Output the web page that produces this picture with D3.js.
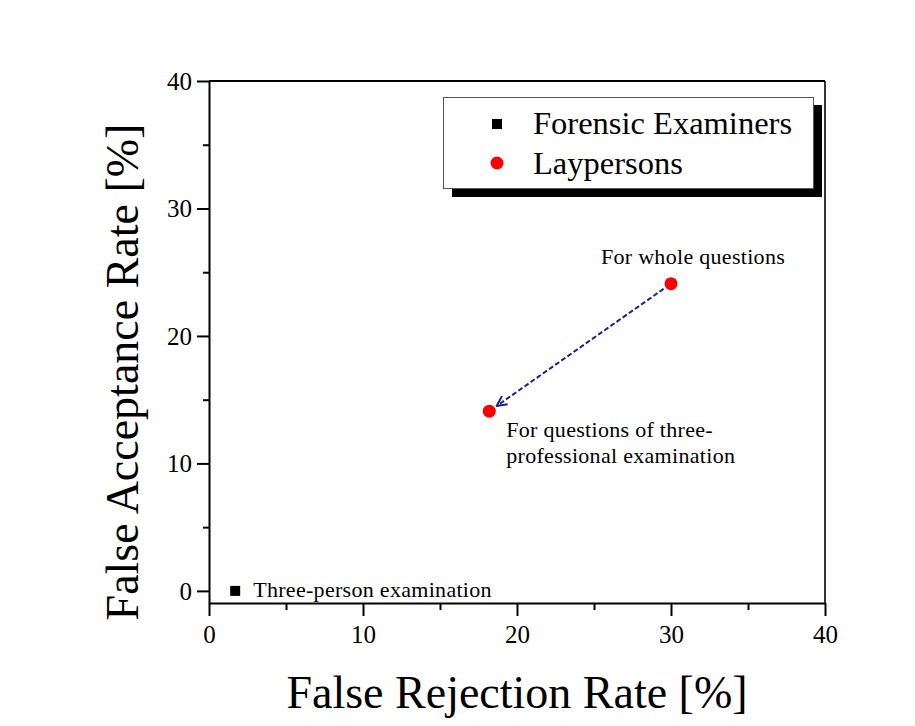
<!DOCTYPE html>
<html><head><meta charset="utf-8">
<script src="https://cdn.jsdelivr.net/npm/d3@7"></script>
<style>body{margin:0;background:#fff}svg{display:block}text{font-family:"Liberation Serif","Times New Roman",serif}</style>
</head><body><svg id="c" width="915" height="726"></svg>
<script>
const seriesNames = ["Forensic Examiners", "Laypersons"];
const forensicX = [1.7];
const forensicY = [0];
const forensicLabels = ["Three-person examination"];
const layX = [30, 18.2];
const layY = [24.1, 14.1];
const layLabels = [["For whole questions"], ["For questions of three-", "professional examination"]];
const xTicks = [0, 10, 20, 30, 40];
const yTicks = [0, 10, 20, 30, 40];
const xMinor = [5, 15, 25, 35];
const yMinor = [5, 15, 25, 35];

const svg = d3.select("#c");
const x = d3.scaleLinear().domain([0, 40]).range([209, 825]);
const y = d3.scaleLinear().domain([-0.95, 40]).range([603, 81]);

// frame
svg.append("line").attr("x1", 209).attr("x2", 825).attr("y1", 81).attr("y2", 81).attr("stroke", "#000").attr("stroke-width", 2);
svg.append("line").attr("x1", 825).attr("x2", 825).attr("y1", 81).attr("y2", 603).attr("stroke", "#000").attr("stroke-width", 1.6);

// axes
const xAxis = svg.append("g").attr("transform", "translate(0,603)")
  .call(d3.axisBottom(x).tickValues(xTicks).tickSize(13).tickSizeOuter(0).tickPadding(9));
const xMin = svg.append("g").attr("transform", "translate(0,603)")
  .call(d3.axisBottom(x).tickValues(xMinor).tickSize(7).tickFormat(""));
xMin.select(".domain").remove();
const yAxis = svg.append("g").attr("transform", "translate(209,0)")
  .call(d3.axisLeft(y).tickValues(yTicks).tickSize(12).tickSizeOuter(0).tickPadding(5));
const yMin = svg.append("g").attr("transform", "translate(209,0)")
  .call(d3.axisLeft(y).tickValues(yMinor).tickSize(6).tickFormat(""));
yMin.select(".domain").remove();
svg.selectAll(".domain").attr("stroke-width", 2).attr("stroke", "#000");
svg.selectAll(".tick line").attr("stroke-width", 2).attr("stroke", "#000");
svg.selectAll(".tick text").attr("font-size", 25).attr("fill", "#000").style("font-family", "'Liberation Serif', serif");
yAxis.selectAll(".tick text").attr("dy", "0.33em");

// axis titles
svg.append("text").attr("x", 517).attr("y", 708).attr("text-anchor", "middle").attr("font-size", 46).text("False Rejection Rate [%]");
svg.append("text").attr("transform", "translate(138,372) rotate(-90)").attr("text-anchor", "middle").attr("font-size", 46).text("False Acceptance Rate [%]");

// arrow
const defs = svg.append("defs");
defs.append("marker").attr("id", "ah").attr("viewBox", "0 0 12 12").attr("refX", 11).attr("refY", 6)
  .attr("markerWidth", 12).attr("markerHeight", 12).attr("markerUnits", "userSpaceOnUse").attr("orient", "auto")
  .append("path").attr("d", "M1,1 L11,6 L1,11").attr("fill", "none").attr("stroke", "#1a237e").attr("stroke-width", 2);
const p0 = [x(layX[0]), y(layY[0])], p1 = [x(layX[1]), y(layY[1])];
const dx = p1[0] - p0[0], dy = p1[1] - p0[1], len = Math.hypot(dx, dy);
svg.append("line")
  .attr("x1", p0[0] + dx / len * 9).attr("y1", p0[1] + dy / len * 9)
  .attr("x2", p1[0] - dx / len * 9).attr("y2", p1[1] - dy / len * 9)
  .attr("stroke", "#1a237e").attr("stroke-width", 2).attr("stroke-dasharray", "5,2.5")
  .attr("marker-end", "url(#ah)");

// points
svg.selectAll(".lay").data(layX).enter().append("circle")
  .attr("cx", (d) => x(d)).attr("cy", (d, i) => y(layY[i])).attr("r", 6.5).attr("fill", "#ff0000");
svg.selectAll(".for").data(forensicX).enter().append("rect")
  .attr("x", (d) => x(d) - 5).attr("y", (d, i) => y(forensicY[i]) - 5).attr("width", 10).attr("height", 10).attr("fill", "#000");

// labels
const lab = { "font-size": 22, "letter-spacing": 0.3 };
svg.append("text").attr("x", x(layX[0]) + 22).attr("y", y(layY[0]) - 20).attr("text-anchor", "middle")
  .attr("font-size", lab["font-size"]).attr("letter-spacing", lab["letter-spacing"]).text(layLabels[0][0]);
layLabels[1].forEach((t, i) => {
  svg.append("text").attr("x", x(layX[1]) + 17).attr("y", y(layY[1]) + 26 + i * 26)
    .attr("font-size", lab["font-size"]).attr("letter-spacing", lab["letter-spacing"]).text(t);
});
svg.append("text").attr("x", x(forensicX[0]) + 18).attr("y", y(forensicY[0]) + 6)
  .attr("font-size", lab["font-size"]).attr("letter-spacing", lab["letter-spacing"]).text(forensicLabels[0]);

// legend
svg.append("rect").attr("x", 452).attr("y", 105).attr("width", 370).attr("height", 92).attr("fill", "#000");
svg.append("rect").attr("x", 443.5).attr("y", 97.5).attr("width", 370).attr("height", 91).attr("fill", "#fff").attr("stroke", "#555").attr("stroke-width", 1);
svg.append("rect").attr("x", 492).attr("y", 119).attr("width", 10).attr("height", 10).attr("fill", "#000");
svg.append("circle").attr("cx", 497).attr("cy", 163).attr("r", 6.5).attr("fill", "#ff0000");
svg.append("text").attr("x", 533).attr("y", 134).attr("font-size", 32.5).text(seriesNames[0]);
svg.append("text").attr("x", 533).attr("y", 174).attr("font-size", 32.5).text(seriesNames[1]);
</script></body></html>
